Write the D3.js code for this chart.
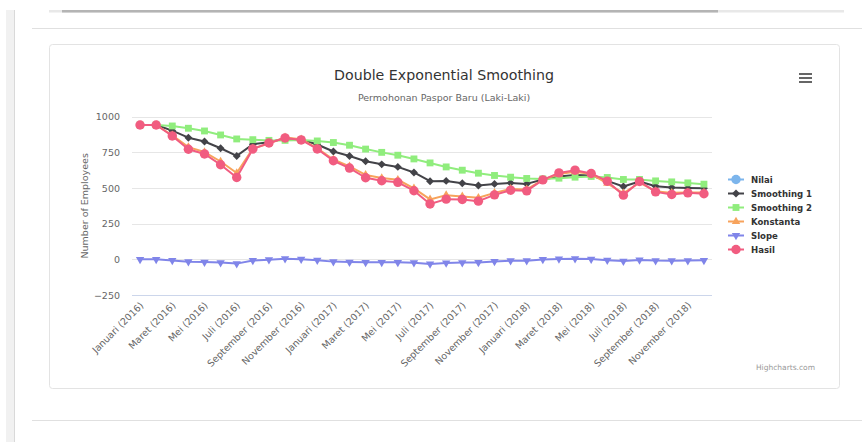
<!DOCTYPE html>
<html>
<head>
<meta charset="utf-8">
<script src="https://cdn.jsdelivr.net/npm/d3@7"></script>
<style>
  html, body { margin: 0; padding: 0; background: #fff; }
  svg { display: block; font-family: "DejaVu Sans", "Lucida Grande", sans-serif; }
</style>
</head>
<body>
<svg id="chart" width="862" height="442"></svg>
<script>
// ---------- DATA ----------
const monthNames = ["Januari","Februari","Maret","April","Mei","Juni","Juli","Agustus","September","Oktober","November","Desember"];
const years = [2016, 2017, 2018];
const categories = [];
years.forEach(y => monthNames.forEach(m => categories.push(m + " (" + y + ")")));

const nilai = []; // not visible in the reference
const smoothing1 = [942, 942, 902, 853, 826, 779, 725, 807, 821, 848, 840, 805, 756, 725, 688, 666, 648, 609, 548, 550, 534, 518, 529, 536, 529, 560, 581, 592, 588, 550, 511, 546, 513, 504, 501, 499];
const smoothing2 = [942, 942, 935, 919, 900, 872, 844, 839, 834, 834, 837, 830, 819, 800, 773, 750, 730, 704, 676, 648, 625, 604, 588, 576, 567, 564, 569, 576, 581, 574, 560, 560, 550, 543, 536, 527];
const konstanta = [942, 942, 870, 787, 752, 686, 605, 776, 812, 855, 842, 778, 700, 652, 592, 570, 558, 497, 420, 450, 441, 432, 466, 494, 490, 558, 598, 614, 598, 532, 462, 538, 478, 466, 468, 468];
const slope = [0, 0, -8, -17, -19, -23, -30, -8, -3, 4, 1, -6, -16, -19, -21, -21, -21, -24, -32, -25, -23, -22, -15, -10, -10, -1, 3, 4, 2, -6, -12, -4, -9, -10, -9, -7];
const hasil = [942, 942, 865, 772, 739, 663, 574, 774, 816, 851, 837, 774, 691, 640, 572, 551, 540, 481, 388, 422, 420, 408, 452, 485, 480, 557, 606, 625, 602, 548, 450, 546, 473, 455, 466, 460];

const yTicks = [-250, 0, 250, 500, 750, 1000];

const seriesList = [
  { name: "Nilai", data: nilai, color: "#7cb5ec", symbol: "circle" },
  { name: "Smoothing 1", data: smoothing1, color: "#434348", symbol: "diamond" },
  { name: "Smoothing 2", data: smoothing2, color: "#90ed7d", symbol: "square" },
  { name: "Konstanta", data: konstanta, color: "#f7a35c", symbol: "triangle" },
  { name: "Slope", data: slope, color: "#8085e9", symbol: "triangle-down" },
  { name: "Hasil", data: hasil, color: "#f15c80", symbol: "circle" }
];

// ---------- PAGE DECOR ----------
const svg = d3.select("#chart");
svg.append("rect").attr("x", 6).attr("y", 10).attr("width", 9).attr("height", 432).attr("fill", "#f1f1f1");
svg.append("line").attr("x1", 14.5).attr("x2", 14.5).attr("y1", 10).attr("y2", 442).attr("stroke", "#d9d9d9");
svg.append("rect").attr("x", 49).attr("y", 10).attr("width", 795).attr("height", 2.5).attr("fill", "#e8e8e8");
svg.append("rect").attr("x", 62).attr("y", 10).attr("width", 656).attr("height", 2.5).attr("fill", "#b4b4b4");
svg.append("line").attr("x1", 32).attr("x2", 862).attr("y1", 28.5).attr("y2", 28.5).attr("stroke", "#e0e0e0");
svg.append("line").attr("x1", 32).attr("x2", 862).attr("y1", 420.5).attr("y2", 420.5).attr("stroke", "#e0e0e0");
svg.append("rect").attr("x", 49.5).attr("y", 44.5).attr("width", 790).attr("height", 344)
  .attr("rx", 3).attr("fill", "#fff").attr("stroke", "#e3e3e3");

// ---------- SCALES ----------
const plot = { left: 132, right: 712, top: 116.7, bottom: 295 };
const x = d3.scaleBand().domain(categories).range([plot.left, plot.right]);
const xc = c => x(c) + x.bandwidth() / 2;
const y = d3.scaleLinear().domain([-250, 1000]).range([plot.bottom, plot.top]);

// ---------- TITLES ----------
svg.append("text").attr("x", 444).attr("y", 80).attr("text-anchor", "middle")
  .attr("font-size", 14.2).attr("fill", "#333").text("Double Exponential Smoothing");
svg.append("text").attr("x", 444).attr("y", 101).attr("text-anchor", "middle")
  .attr("font-size", 9.5).attr("fill", "#666").text("Permohonan Paspor Baru (Laki-Laki)");

// hamburger
[0, 4, 8].forEach(d => {
  svg.append("rect").attr("x", 799).attr("y", 73 + d).attr("width", 13).attr("height", 2).attr("fill", "#666");
});

// ---------- GRID & Y AXIS ----------
const gridG = svg.append("g");
gridG.selectAll("line").data(yTicks.filter(t => t !== -250)).join("line")
  .attr("x1", plot.left).attr("x2", plot.right)
  .attr("y1", d => Math.round(y(d)) + 0.5).attr("y2", d => Math.round(y(d)) + 0.5)
  .attr("stroke", "#e6e6e6");

const yAxis = d3.axisLeft(y).tickValues(yTicks).tickSize(0).tickPadding(0)
  .tickFormat(d => d < 0 ? "\u2212" + Math.abs(d) : d);
const yg = svg.append("g").attr("transform", `translate(${plot.left - 12},0)`).call(yAxis);
yg.select(".domain").remove();
yg.selectAll("text").attr("font-size", 9.5).attr("fill", "#666").attr("font-family", "DejaVu Sans");

svg.append("text").attr("transform", `translate(88,${(plot.top + plot.bottom) / 2}) rotate(-90)`)
  .attr("text-anchor", "middle").attr("font-size", 9.5).attr("fill", "#666").text("Number of Employees");

// ---------- X AXIS ----------
svg.append("line").attr("x1", plot.left).attr("x2", plot.right)
  .attr("y1", plot.bottom + 0.5).attr("y2", plot.bottom + 0.5).attr("stroke", "#ccd6eb");
const xAxis = d3.axisBottom(x).tickValues(categories.filter((c, i) => i % 2 === 0)).tickSize(0).tickPadding(0);
const xg = svg.append("g").attr("transform", `translate(0,${plot.bottom})`).call(xAxis);
xg.select(".domain").remove();
xg.selectAll("text")
  .attr("font-size", 9.5).attr("fill", "#666").attr("font-family", "DejaVu Sans")
  .attr("text-anchor", "end").attr("dy", 0).attr("y", 0)
  .attr("transform", "translate(4,11) rotate(-45)");

// ---------- SERIES ----------
const sym = {
  "circle": d3.symbol(d3.symbolCircle, 70),
  "diamond": d3.symbol(d3.symbolDiamond2, 40),
  "square": d3.symbol(d3.symbolSquare2, 60),
  "triangle": d3.symbol(d3.symbolTriangle2, 50),
  "triangle-down": d3.symbol(d3.symbolTriangle2, 50)
};
const line = d3.line().x((d, i) => xc(categories[i])).y(d => y(d));
seriesList.forEach(s => {
  const g = svg.append("g");
  if (s.data.length) {
    g.append("path").attr("d", line(s.data)).attr("fill", "none")
      .attr("stroke", s.color).attr("stroke-width", 2).attr("stroke-linejoin", "round");
    g.selectAll("path.m").data(s.data).join("path").attr("class", "m")
      .attr("d", sym[s.symbol]())
      .attr("transform", (d, i) => `translate(${xc(categories[i])},${y(d)})` + (s.symbol === "triangle-down" ? " rotate(180)" : ""))
      .attr("fill", s.color);
  }
});

// ---------- LEGEND ----------
const lg = svg.append("g");
seriesList.forEach((s, i) => {
  const ly = 179.5 + i * 14;
  lg.append("line").attr("x1", 728).attr("x2", 744).attr("y1", ly).attr("y2", ly)
    .attr("stroke", s.color).attr("stroke-width", 2);
  lg.append("path").attr("d", sym[s.symbol]())
    .attr("transform", `translate(736,${ly})` + (s.symbol === "triangle-down" ? " rotate(180)" : ""))
    .attr("fill", s.color);
  lg.append("text").attr("x", 751).attr("y", ly + 3.5).attr("font-size", 9.5).attr("font-weight", "bold")
    .attr("font-family", "'DejaVu Sans Condensed', 'DejaVu Sans', sans-serif")
    .attr("fill", "#333").text(s.name);
});

// credits
svg.append("text").attr("x", 815).attr("y", 370).attr("text-anchor", "end")
  .attr("font-size", 7.5).attr("fill", "#999").text("Highcharts.com");
</script>
</body>
</html>
